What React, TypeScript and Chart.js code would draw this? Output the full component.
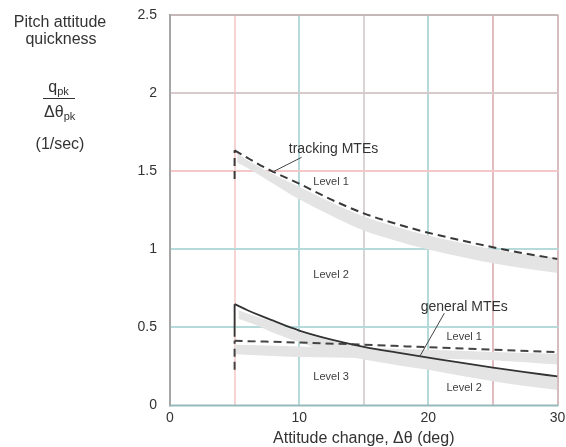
import React, { useEffect, useRef } from 'react';
import { Chart, registerables } from 'chart.js';

Chart.register(...registerables);

// ---------- data ----------
const X_MIN = 0;
const X_MAX = 30;
const Y_MIN = 0;
const Y_MAX = 2.5;
const X_GRID_VALUES = [5, 10, 15, 20, 25, 30];
const Y_GRID_VALUES = [0.5, 1, 1.5, 2, 2.5];
const X_LABELED_TICKS = [0, 10, 20, 30];

// tracking MTEs boundary (dashed)
const trackingX = [5, 6, 7, 8, 10, 12.5, 15, 17.5, 20, 22.5, 25, 27.5, 30];
const trackingY = [1.634, 1.585, 1.538, 1.496, 1.42, 1.318, 1.23, 1.163, 1.106, 1.058, 1.013, 0.973, 0.938];
const trackingStemX = [5, 5];
const trackingStemY = [1.45, 1.634];

// tracking MTEs shaded band
const trackBandX = [5.2, 6, 8, 10, 12.5, 15, 17.5, 20, 22.5, 25, 27.5, 30];
const trackBandHi = [1.615, 1.57, 1.48, 1.40, 1.30, 1.21, 1.145, 1.088, 1.042, 1.0, 0.968, 0.944];
const trackBandLo = [1.555, 1.52, 1.42, 1.32, 1.215, 1.12, 1.055, 0.998, 0.952, 0.91, 0.877, 0.849];

// general MTEs Level 1/2 boundary (solid)
const generalSolidX = [5, 6, 7, 8, 9, 10, 12.5, 15, 17.5, 20, 22.5, 25, 27.5, 30];
const generalSolidY = [0.649, 0.61, 0.575, 0.543, 0.51, 0.48, 0.422, 0.376, 0.34, 0.307, 0.274, 0.243, 0.214, 0.186];
const generalSolidStemX = [5, 5];
const generalSolidStemY = [0.44, 0.649];

// general MTEs Level 2/3 boundary (dashed)
const generalDashX = [5, 10, 15, 20, 25, 30];
const generalDashY = [0.414, 0.403, 0.389, 0.373, 0.357, 0.341];
const generalDashStemX = [5, 5];
const generalDashStemY = [0.229, 0.414];

// general MTEs shaded bands
const genBandAX = [5.3, 6.5, 8, 10, 12.5, 15, 17.5, 20, 22.5, 25, 27.5, 30];
const genBandAHi = [0.61, 0.575, 0.535, 0.47, 0.415, 0.372, 0.337, 0.303, 0.27, 0.237, 0.21, 0.183];
const genBandALo = [0.555, 0.52, 0.465, 0.405, 0.34, 0.295, 0.26, 0.229, 0.19, 0.155, 0.125, 0.10];
const genBandBX = [5, 10, 15, 20, 25, 30];
const genBandBHi = [0.389, 0.378, 0.368, 0.357, 0.343, 0.331];
const genBandBLo = [0.328, 0.31, 0.305, 0.30, 0.29, 0.262];

// annotation texts (data coordinates)
const NOTE_TEXT = ['tracking MTEs', 'Level 1', 'Level 2', 'general MTEs', 'Level 1', 'Level 3', 'Level 2'];
const NOTE_X = [12.66, 12.47, 12.47, 22.78, 22.78, 12.47, 22.78];
const NOTE_Y = [1.64, 1.43, 0.836, 0.632, 0.44, 0.185, 0.114];
const NOTE_BIG = [true, false, false, true, false, false, false];

// leader lines (data coordinates)
const LEADER_X0 = [10.19, 21.24];
const LEADER_Y0 = [1.589, 0.591];
const LEADER_X1 = [7.95, 19.31];
const LEADER_Y1 = [1.495, 0.31];

// ---------- styles ----------
const FONT = "'Liberation Sans', Arial, Helvetica, sans-serif";
const TEXT = '#333333';
const BAND = '#e4e4e4';
const X_GRID_COLORS = ['#f6d4d4', '#b6d9d9', '#d9d4d4', '#b6d9d9', '#e2bcc0', '#d6bcc0'];
const Y_GRID_COLORS = ['#b6d9d9', '#b6d9d9', '#f4c8c8', '#d8caca', '#c4b8b8'];

const pts = (xs: number[], ys: number[]) => xs.map((x, i) => ({ x, y: ys[i] }));

const curve = (data: any, dash: number[], width: number, color: string, smooth = true) => ({
  data,
  borderColor: color,
  borderWidth: width,
  borderDash: dash,
  borderCapStyle: 'butt',
  pointRadius: 0,
  fill: false,
  tension: 0,
  cubicInterpolationMode: smooth ? 'monotone' : 'default',
});

const edge = (data: any, fill: any) => ({
  data,
  borderColor: 'rgba(0,0,0,0)',
  borderWidth: 0,
  pointRadius: 0,
  backgroundColor: BAND,
  fill,
  tension: 0,
  cubicInterpolationMode: 'monotone',
});

const overlayPlugin = {
  id: 'overlay',
  beforeDatasetsDraw(chart: any) {
    const { ctx, chartArea } = chart;
    const xs = chart.scales.x;
    const ys = chart.scales.y;
    ctx.save();
    ctx.setLineDash([]);
    ctx.lineWidth = 2;
    X_GRID_VALUES.forEach((v, i) => {
      const px = Math.round(xs.getPixelForValue(v));
      ctx.strokeStyle = X_GRID_COLORS[i];
      ctx.beginPath();
      ctx.moveTo(px, chartArea.top);
      ctx.lineTo(px, chartArea.bottom);
      ctx.stroke();
    });
    Y_GRID_VALUES.forEach((v, i) => {
      const py = Math.round(ys.getPixelForValue(v));
      ctx.strokeStyle = Y_GRID_COLORS[i];
      ctx.beginPath();
      ctx.moveTo(chartArea.left, py);
      ctx.lineTo(chartArea.right + 1, py);
      ctx.stroke();
    });
    // axes borders
    ctx.strokeStyle = '#a6a6a6';
    ctx.beginPath();
    ctx.moveTo(chartArea.left, chartArea.top - 1);
    ctx.lineTo(chartArea.left, chartArea.bottom + 1);
    ctx.stroke();
    ctx.strokeStyle = '#96baba';
    ctx.beginPath();
    ctx.moveTo(chartArea.left, chartArea.bottom);
    ctx.lineTo(chartArea.right + 1, chartArea.bottom);
    ctx.stroke();
    ctx.restore();
  },
  afterDatasetsDraw(chart: any) {
    const { ctx } = chart;
    const xs = chart.scales.x;
    const ys = chart.scales.y;
    ctx.save();
    ctx.strokeStyle = '#444';
    ctx.lineWidth = 1;
    ctx.setLineDash([]);
    for (let i = 0; i < LEADER_X0.length; i++) {
      ctx.beginPath();
      ctx.moveTo(xs.getPixelForValue(LEADER_X0[i]), ys.getPixelForValue(LEADER_Y0[i]));
      ctx.lineTo(xs.getPixelForValue(LEADER_X1[i]), ys.getPixelForValue(LEADER_Y1[i]));
      ctx.stroke();
    }
    ctx.textAlign = 'center';
    ctx.textBaseline = 'middle';
    for (let i = 0; i < NOTE_TEXT.length; i++) {
      ctx.font = NOTE_BIG[i] ? `14px ${FONT}` : `11px ${FONT}`;
      ctx.fillStyle = NOTE_BIG[i] ? TEXT : '#404040';
      ctx.fillText(NOTE_TEXT[i], xs.getPixelForValue(NOTE_X[i]), ys.getPixelForValue(NOTE_Y[i]));
    }
    ctx.restore();
  },
  afterDraw(chart: any) {
    const { ctx } = chart;
    ctx.save();
    ctx.fillStyle = TEXT;
    ctx.textBaseline = 'alphabetic';
    ctx.textAlign = 'left';
    const big = `16px ${FONT}`;
    const sub = `11px ${FONT}`;
    const centered = (t: string, cx: number, by: number) => {
      ctx.font = big;
      const w = ctx.measureText(t).width;
      ctx.fillText(t, cx - w / 2, by);
    };
    centered('Pitch attitude', 60, 27);
    centered('quickness', 61, 44);
    const withSub = (main: string, s: string, cx: number, by: number, sby: number) => {
      ctx.font = big;
      const w1 = ctx.measureText(main).width;
      ctx.font = sub;
      const w2 = ctx.measureText(s).width;
      const left = cx - (w1 + w2) / 2;
      ctx.font = big;
      ctx.fillText(main, left, by);
      ctx.font = sub;
      ctx.fillText(s, left + w1, sby);
    };
    withSub('q', 'pk', 58.5, 91.5, 94.5);
    ctx.strokeStyle = TEXT;
    ctx.lineWidth = 1;
    ctx.beginPath();
    ctx.moveTo(43, 98.5);
    ctx.lineTo(75, 98.5);
    ctx.stroke();
    withSub('Δθ', 'pk', 59.7, 116.5, 119.5);
    centered('(1/sec)', 60, 148.5);
    ctx.restore();
  },
};

export default function App() {
  const ref = useRef<HTMLCanvasElement | null>(null);
  useEffect(() => {
    if (!ref.current) return;
    const chart = new Chart(ref.current, {
      type: 'line',
      data: {
        datasets: [
          curve(pts(trackingStemX, trackingStemY), [8, 5], 2, '#3a3a3a', false),
          curve(pts(trackingX, trackingY), [8, 5], 2, '#3a3a3a'),
          curve(pts(generalSolidStemX, generalSolidStemY), [], 1.8, '#333', false),
          curve(pts(generalSolidX, generalSolidY), [], 1.8, '#333'),
          curve(pts(generalDashStemX, generalDashStemY), [8, 5], 2, '#444', false),
          curve(pts(generalDashX, generalDashY), [8, 5], 2, '#444'),
          edge(pts(trackBandX, trackBandLo), false),
          edge(pts(trackBandX, trackBandHi), '-1'),
          edge(pts(genBandAX, genBandALo), false),
          edge(pts(genBandAX, genBandAHi), '-1'),
          edge(pts(genBandBX, genBandBLo), false),
          edge(pts(genBandBX, genBandBHi), '-1'),
        ] as any,
      },
      options: {
        animation: false,
        responsive: false,
        maintainAspectRatio: false,
        events: [],
        layout: { padding: { left: 0, right: 8.5, top: 15, bottom: 0 } },
        plugins: { legend: { display: false }, tooltip: { enabled: false } },
        scales: {
          x: {
            type: 'linear',
            min: X_MIN,
            max: X_MAX,
            afterFit: (s: any) => { s.height = 41.5; s.paddingLeft = 0; s.paddingRight = 0; },
            ticks: {
              stepSize: 5,
              autoSkip: false,
              maxRotation: 0,
              padding: 4,
              color: TEXT,
              font: { family: FONT, size: 14 },
              callback: (v: any) => (X_LABELED_TICKS.includes(Number(v)) ? String(v) : ''),
            },
            grid: { display: false, drawTicks: false },
            border: { display: false },
            title: {
              display: true,
              text: 'Attitude change, Δθ (deg)',
              color: TEXT,
              font: { family: FONT, size: 16, lineHeight: 1.05 },
              padding: { top: 0, bottom: 0 },
            },
          },
          y: {
            type: 'linear',
            min: Y_MIN,
            max: Y_MAX,
            afterFit: (s: any) => { s.width = 170; s.paddingTop = 0; s.paddingBottom = 0; },
            ticks: {
              stepSize: 0.5,
              padding: 13,
              color: TEXT,
              font: { family: FONT, size: 14 },
              callback: (v: any) => String(v),
            },
            grid: { display: false, drawTicks: false },
            border: { display: false },
          },
        },
      } as any,
      plugins: [overlayPlugin],
    });
    return () => chart.destroy();
  }, []);
  return (
    <div style={{ position: 'fixed', left: 0, top: 0, width: 566, height: 447, background: '#fff' }}>
      <canvas ref={ref} width={566} height={447} style={{ display: 'block', width: 566, height: 447 }} />
    </div>
  );
}
